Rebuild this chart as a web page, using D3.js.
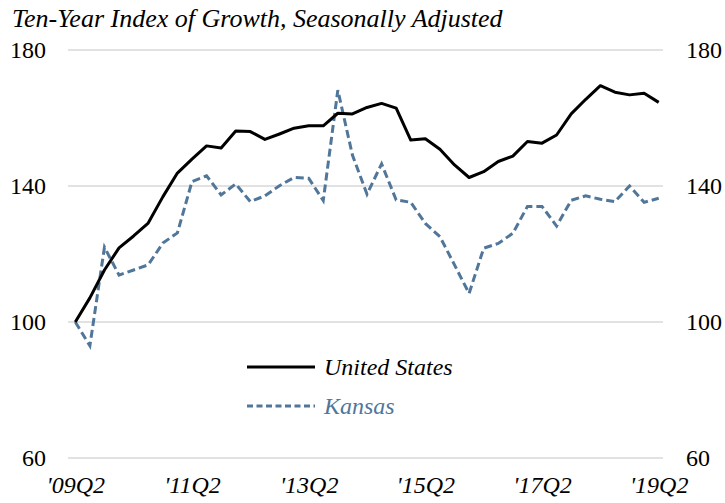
<!DOCTYPE html>
<html>
<head>
<meta charset="utf-8">
<script src="https://cdn.jsdelivr.net/npm/d3@7"></script>
<style>
  html, body { margin: 0; padding: 0; background: #fff; }
  #chart text { font-family: 'Liberation Serif', 'Times New Roman', serif !important; }
</style>
</head>
<body>
<svg id="chart" width="725" height="503"></svg>
<script>
// Quarterly index (2009Q2 = 100)
const quarters = [];
for (let yr = 9; yr <= 19; yr++) {
  for (let q = 1; q <= 4; q++) {
    if ((yr === 9 && q < 2) || (yr === 19 && q > 2)) continue;
    quarters.push("'" + String(yr).padStart(2, "0") + "Q" + q);
  }
}
const unitedStates = [100, 107.1, 115.3, 121.8, 125.3, 129.1, 136.8, 143.8, 147.9, 151.8,
  151.2, 156.2, 156, 153.7, 155.3, 157, 157.7, 157.7, 161.4, 161.2,
  163.1, 164.3, 162.9, 153.5, 153.9, 150.8, 146.2, 142.5, 144.2, 147.2,
  148.8, 153.1, 152.6, 155, 161.2, 165.5, 169.5, 167.6, 166.8, 167.3, 164.6];
const kansas = [100, 93, 122, 113.8, 115.3, 116.8, 123.2, 126.2, 141.3, 143,
  137.4, 140.6, 135.4, 137.1, 140.1, 142.5, 142.3, 135.7, 168.2, 149.1,
  137.6, 146.5, 135.9, 135.2, 129, 125.1, 116.8, 108.4, 121.7, 123.1,
  126.1, 134, 134, 128.2, 135.8, 137.1, 136.1, 135.4, 140, 135.2, 136.4];
const yTicks = [60, 100, 140, 180];
const xTickLabels = ["'09Q2", "'11Q2", "'13Q2", "'15Q2", "'17Q2", "'19Q2"];
const seriesNames = ["United States", "Kansas"];

const svg = d3.select("#chart");
const plotLeft = 68, plotRight = 666, plotTop = 50, plotBottom = 458;
const kansasColor = "#50769a";
const serifStack = "'Liberation Serif', 'Times New Roman', serif";

const x = d3.scalePoint().domain(quarters).range([plotLeft, plotRight]).padding(0.5);
const y = d3.scaleLinear().domain([60, 180]).range([plotBottom, plotTop]);

// Title
svg.append("text")
  .attr("x", 12).attr("y", 27)
  .attr("font-style", "italic")
  .attr("font-size", 26)
  .attr("fill", "#000")
  .text("Ten-Year Index of Growth, Seasonally Adjusted");

// Gridlines
svg.append("g")
  .selectAll("line")
  .data(yTicks)
  .join("line")
  .attr("x1", plotLeft).attr("x2", plotRight - 3)
  .attr("y1", d => y(d)).attr("y2", d => y(d))
  .attr("stroke", "#d9d9d9").attr("stroke-width", 1.5);

// Left and right value axes (labels only)
const axisL = d3.axisLeft(y).tickValues(yTicks).tickSize(0).tickPadding(22);
const gL = svg.append("g").attr("transform", `translate(${plotLeft},0)`).call(axisL);
const axisR = d3.axisRight(y).tickValues(yTicks).tickSize(0).tickPadding(20);
const gR = svg.append("g").attr("transform", `translate(${plotRight},0)`).call(axisR);
[gL, gR].forEach(g => {
  g.select(".domain").remove();
  g.selectAll("text")
    .attr("font-size", 24)
    .attr("fill", "#000");
});

// Category axis
const axisB = d3.axisBottom(x).tickValues(xTickLabels).tickSize(0);
const gB = svg.append("g").attr("transform", `translate(0,${plotBottom})`).call(axisB);
gB.select(".domain").remove();
gB.selectAll("text")
  .attr("y", 35)
  .attr("dy", 0)
  .attr("font-size", 24)
  .attr("font-style", "italic")
  .attr("fill", "#000");

// Axis groups default to sans-serif; use the serif stack instead
[gL, gR, gB].forEach(g => g.attr("font-family", serifStack).attr("font-size", null));

// Lines
const line = d3.line()
  .x((d, i) => x(quarters[i]))
  .y(d => y(d));

svg.append("path")
  .datum(kansas)
  .attr("fill", "none")
  .attr("stroke", kansasColor)
  .attr("stroke-width", 3)
  .attr("stroke-dasharray", "8,4")
  .attr("d", line);

svg.append("path")
  .datum(unitedStates)
  .attr("fill", "none")
  .attr("stroke", "#000")
  .attr("stroke-width", 3)
  .attr("stroke-linejoin", "round")
  .attr("d", line);

// Legend
const legend = svg.append("g");
const legendItems = [
  { name: seriesNames[0], color: "#000", dash: null, text: "#000", ly: 367 },
  { name: seriesNames[1], color: kansasColor, dash: "6,3.5", text: kansasColor, ly: 406 }
];
legendItems.forEach(it => {
  legend.append("line")
    .attr("x1", 247).attr("x2", 315)
    .attr("y1", it.ly).attr("y2", it.ly)
    .attr("stroke", it.color).attr("stroke-width", 3)
    .attr("stroke-dasharray", it.dash);
  legend.append("text")
    .attr("x", 324).attr("y", it.ly + 8)
    .attr("font-size", 24)
    .attr("font-style", "italic")
    .attr("fill", it.text)
    .text(it.name);
});

// Serif face for every label
svg.selectAll("text")
  .attr("font-family", serifStack)
  .style("font-family", serifStack, "important");
</script>
</body>
</html>
